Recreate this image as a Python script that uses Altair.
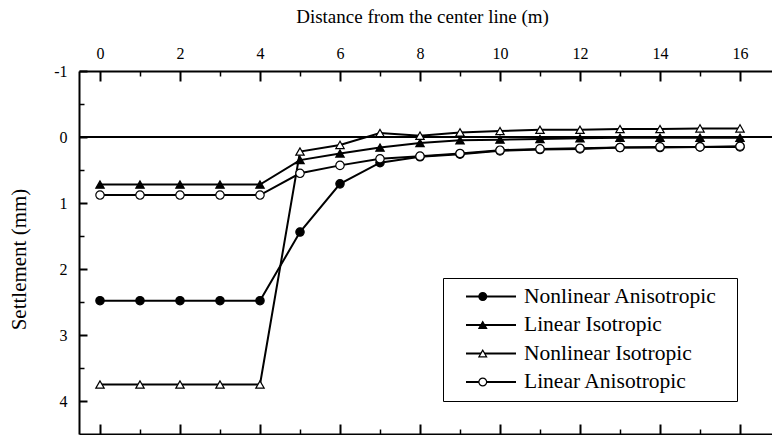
import altair as alt
import pandas as pd

# Distance from the center line (m)
distance = [0, 1, 2, 3, 4, 5, 6, 7, 8, 9, 10, 11, 12, 13, 14, 15, 16]

# Settlement (mm) for each model
nonlinear_anisotropic = [2.48, 2.48, 2.48, 2.48, 2.48, 1.44, 0.71, 0.39, 0.30, 0.26, 0.21, 0.19, 0.18, 0.16, 0.16, 0.15, 0.15]
linear_isotropic = [0.72, 0.72, 0.72, 0.72, 0.72, 0.35, 0.25, 0.16, 0.09, 0.05, 0.04, 0.03, 0.02, 0.01, 0.01, 0.01, 0.01]
nonlinear_isotropic = [3.75, 3.75, 3.75, 3.75, 3.75, 0.22, 0.12, -0.06, -0.02, -0.07, -0.09, -0.11, -0.11, -0.12, -0.12, -0.13, -0.13]
linear_anisotropic = [0.88, 0.88, 0.88, 0.88, 0.88, 0.55, 0.43, 0.33, 0.29, 0.25, 0.20, 0.18, 0.17, 0.16, 0.15, 0.15, 0.14]

series_names = ["Nonlinear Anisotropic", "Linear Isotropic", "Nonlinear Isotropic", "Linear Anisotropic"]
series_values = [nonlinear_anisotropic, linear_isotropic, nonlinear_isotropic, linear_anisotropic]
marker_shapes = ["circle", "triangle-up", "triangle-up", "circle"]
marker_fills = ["black", "black", "white", "white"]

# Axis tick positions
x_major = [0, 2, 4, 6, 8, 10, 12, 14, 16]
x_minor = [1, 3, 5, 7, 9, 11, 13, 15]
y_major = [-1, 0, 1, 2, 3, 4]
y_minor = [-0.5, 0.5, 1.5, 2.5, 3.5]

rows = []
for name, vals in zip(series_names, series_values):
    for d, v in zip(distance, vals):
        rows.append({"distance": d, "settlement": v, "series": name, "model": name})
df = pd.DataFrame(rows)

FONT = "Liberation Serif"
xs = alt.Scale(domain=[-0.525, 16.8], nice=False, zero=False)
ys = alt.Scale(domain=[-1, 4.5], reverse=True, nice=False, zero=False)


def tick_axis(orient, values, size, width):
    return alt.Axis(orient=orient, values=values, labels=False, domain=False, ticks=True,
                    tickSize=size, tickWidth=width, offset=-size, title=None, grid=False)


x_main = alt.Axis(orient="top", values=x_major, ticks=False, tickSize=0, domain=True, domainWidth=2,
                  labelFontSize=16, labelPadding=10, title="Distance from the center line (m)",
                  titleFontSize=19, titleX=343, titleY=-49, titleAlign="center",
                  titleBaseline="alphabetic", grid=False)
y_main = alt.Axis(orient="left", values=y_major, ticks=False, tickSize=0, domain=True, domainWidth=2,
                  labelFontSize=16, labelPadding=12, labelExpr="'' + datum.value",
                  title="Settlement (mm)", titleFontSize=21, titleX=-53.5, titleY=188,
                  titleAngle=-90, titleAlign="center", titleBaseline="alphabetic", grid=False)

zero_line = alt.Chart(pd.DataFrame({"level": [0]})).mark_rule(color="black", strokeWidth=2).encode(
    y=alt.Y("level:Q", scale=ys, axis=None)
)

# Two legends share one spot: the line samples with the visible labels, and the
# markers (with the frame) drawn over the middle of each line sample
line_legend = alt.Legend(
    orient="none", legendX=364, legendY=207, title=None,
    symbolType="stroke", symbolSize=2500, symbolStrokeWidth=2, symbolStrokeColor="black",
    labelFont=FONT, labelFontSize=21.5, labelColor="black", labelOffset=7,
    rowPadding=6.5, padding=8, symbolOffset=14, clipHeight=21, labelLimit=400,
)
marker_legend = alt.Legend(
    orient="none", legendX=364, legendY=207, title=None,
    symbolType={"expr": "scale('shape', datum.value)"},
    symbolSize=60, symbolStrokeWidth=1.2, symbolStrokeColor="black",
    labelFont=FONT, labelFontSize=21.5, labelColor="transparent", labelOffset=42,
    rowPadding=6.5, padding=8, symbolOffset=21, clipHeight=21, labelLimit=400,
    strokeColor="black",
)

lines = alt.Chart(df).mark_line(strokeWidth=2).encode(
    x=alt.X("distance:Q", scale=xs, axis=x_main),
    y=alt.Y("settlement:Q", scale=ys, axis=y_main),
    stroke=alt.Stroke("series:N", sort=series_names,
                      scale=alt.Scale(range=["black", "black", "black", "black"]),
                      legend=line_legend),
    order=alt.Order("distance:Q"),
)

points = alt.Chart(df).mark_point(size=70, strokeWidth=1.2, stroke="black", opacity=1).encode(
    x=alt.X("distance:Q", scale=xs, axis=tick_axis("top", x_major, 10, 2)),
    y=alt.Y("settlement:Q", scale=ys, axis=tick_axis("left", y_major, 8, 2)),
    shape=alt.Shape("model:N", sort=series_names, scale=alt.Scale(range=marker_shapes),
                    legend=None),
    fill=alt.Fill("model:N", sort=series_names, scale=alt.Scale(range=marker_fills),
                  legend=marker_legend),
)

ghost = alt.Chart(df).mark_point(opacity=0, size=1)

minor_top_left = ghost.encode(
    x=alt.X("distance:Q", scale=xs, axis=tick_axis("top", x_minor, 5, 1.5)),
    y=alt.Y("settlement:Q", scale=ys, axis=tick_axis("left", y_minor, 5, 1.5)),
)
major_bottom = ghost.encode(
    x=alt.X("distance:Q", scale=xs, axis=tick_axis("bottom", x_major, 10, 2)),
    y=alt.Y("settlement:Q", scale=ys, axis=None),
)
minor_bottom = ghost.encode(
    x=alt.X("distance:Q", scale=xs, axis=tick_axis("bottom", x_minor, 5, 1.5)),
    y=alt.Y("settlement:Q", scale=ys, axis=None),
)
bottom_frame = ghost.encode(
    x=alt.X("distance:Q", scale=xs,
            axis=alt.Axis(orient="bottom", labels=False, ticks=False, domain=True, domainWidth=2,
                          title=None, grid=False)),
    y=alt.Y("settlement:Q", scale=ys, axis=None),
)

chart = alt.layer(
    zero_line, lines, points, minor_top_left, major_bottom, minor_bottom, bottom_frame
).resolve_axis(
    x="independent", y="independent"
).properties(
    width=693, height=363,
    autosize=alt.AutoSizeParams(type="none"),
    padding={"left": 79, "top": 71, "right": 0, "bottom": 1},
).configure_view(
    stroke=None
).configure_axis(
    labelFont=FONT, titleFont=FONT, labelColor="black", titleColor="black",
    tickColor="black", domainColor="black", titleFontWeight="normal",
)

chart.save("out.html", embed_options={"renderer": "svg", "actions": False})
